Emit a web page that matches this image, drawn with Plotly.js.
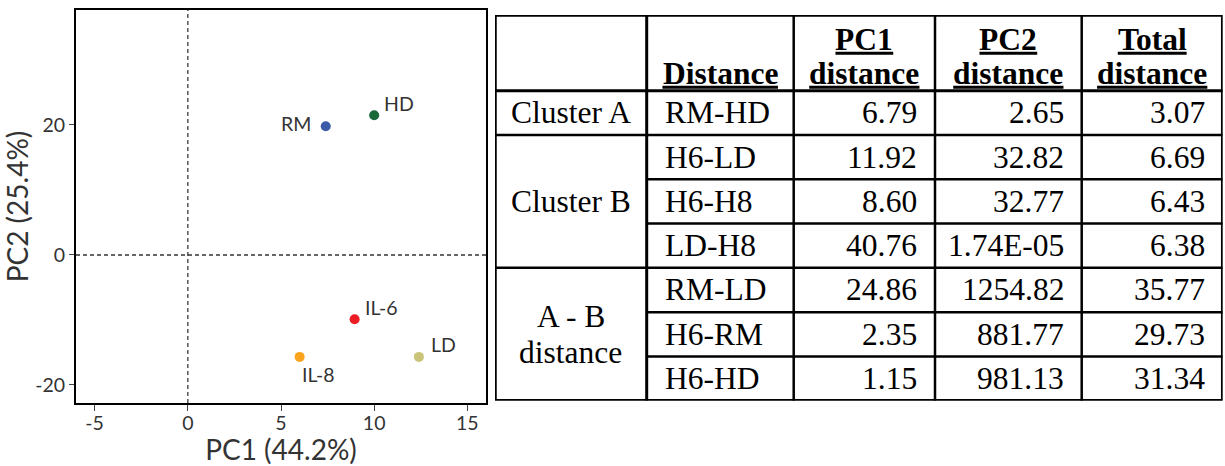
<!DOCTYPE html>
<html>
<head>
<meta charset="utf-8">
<script src="https://cdn.plot.ly/plotly-3.0.1.min.js"></script>
<style>html,body{margin:0;padding:0;background:#fff;}#chart{width:1225px;height:466px;}</style>
</head>
<body>
<div id="chart"></div>
<script>
// ---------- scatter data ----------
const sampleLabels = ['RM', 'HD', 'IL-6', 'IL-8', 'LD'];
const pc1Scores = [7.4, 10.0, 8.95, 6.0, 12.4];
const pc2Scores = [19.8, 21.5, -9.9, -15.7, -15.7];
const sampleColors = ['#3b5ba8', '#17693a', '#ec1c24', '#f9a41c', '#cac47a'];
const xTickVals = [-5, 0, 5, 10, 15];
const yTickVals = [-20, 0, 20];

// ---------- table data ----------
const headerLine1 = ['', '', 'PC1', 'PC2', 'Total'];
const headerLine2 = ['', 'Distance', 'distance', 'distance', 'distance'];
const groupNames = [['Cluster A'], ['Cluster B'], ['A - B', 'distance']];
const groupSpans = [1, 3, 3];
const pairNames = ['RM-HD', 'H6-LD', 'H6-H8', 'LD-H8', 'RM-LD', 'H6-RM', 'H6-HD'];
const pc1Distance = ['6.79', '11.92', '8.60', '40.76', '24.86', '2.35', '1.15'];
const pc2Distance = ['2.65', '32.82', '32.77', '1.74E-05', '1254.82', '881.77', '981.13'];
const totalDistance = ['3.07', '6.69', '6.43', '6.38', '35.77', '29.73', '31.34'];

// ---------- layout geometry (pixels) ----------
const W = 1225, H = 466;
const M = {l: 76, r: 2, t: 10, b: 63};
const PW = W - M.l - M.r, PH = H - M.t - M.b;
const plotBox = {l: 76, r: 486, t: 10, b: 403};
const tableBox = {l: 495, r: 1222.7, t: 15, b: 400.7};
const colWidths = [151.7, 147, 141.3, 146.7, 141];
const headerH = 75.7;
const nRows = pairNames.length;
const rowH = (tableBox.b - tableBox.t - headerH) / nRows;
const xdom = (a, b) => [(a - M.l) / PW, Math.min(1, (b - M.l) / PW)];
const ydom = (t, b) => [(H - M.b - b) / PH, Math.min(1, (H - M.b - t) / PH)];

const colEdges = [0];
colWidths.forEach(w => colEdges.push(colEdges[colEdges.length - 1] + w));
const rowTop = i => headerH + i * rowH;

const serifFamily = 'Liberation Serif, Times New Roman, serif';
const serifSize = 31.5;
const serif = {family: serifFamily, size: serifSize, color: '#000'};
const sans = 'Lato, Open Sans, sans-serif';

const traces = [{
  type: 'scatter', mode: 'markers', x: pc1Scores, y: pc2Scores, text: sampleLabels,
  marker: {size: 10, color: sampleColors}, xaxis: 'x', yaxis: 'y', hoverinfo: 'text'
}];

const shapes = [];
const annotations = [];

// zero lines
shapes.push({type: 'line', xref: 'x', yref: 'y domain', x0: 0, x1: 0, y0: 0, y1: 1,
  line: {color: '#555', width: 1.5, dash: '4px,3px'}});
shapes.push({type: 'line', xref: 'x domain', yref: 'y', x0: 0, x1: 1, y0: 0, y1: 0,
  line: {color: '#333', width: 1.5, dash: '4px,3px'}});

// point labels: [xshift px, yshift px (up positive), xanchor]
const labelOffsets = {RM: [-13, 3, 'right'], HD: [8, 12, 'left'],
  'IL-6': [8, 12, 'left'], 'IL-8': [0, -18, 'left'], LD: [10, 12, 'left']};
sampleLabels.forEach((lab, i) => {
  const o = labelOffsets[lab];
  annotations.push({xref: 'x', yref: 'y', x: pc1Scores[i], y: pc2Scores[i], text: lab,
    showarrow: false, xshift: o[0], yshift: o[1], xanchor: o[2], yanchor: 'middle',
    font: {family: sans, size: 19.5, color: '#333'}});
});

// table lines
const tW = colEdges[colEdges.length - 1], tH = tableBox.b - tableBox.t;
function tline(x0, y0, x1, y1, w) {
  shapes.push({type: 'line', xref: 'x2', yref: 'y2', x0, y0, x1, y1, line: {color: '#000', width: w}});
}
tline(0, headerH, tW, headerH, 3);
for (let r = 1; r < nRows; r++) {
  let acc = 0, isGroupBoundary = false;
  groupSpans.forEach(s => { acc += s; if (acc === r) isGroupBoundary = true; });
  tline(isGroupBoundary ? 0 : colEdges[1], rowTop(r), tW, rowTop(r), 2.5);
}
for (let c = 1; c < colEdges.length - 1; c++) tline(colEdges[c], 0, colEdges[c], tH, c === 1 ? 3 : 2.5);
shapes.push({type: 'rect', xref: 'x2', yref: 'y2', x0: 0, x1: tW, y0: 0, y1: tH,
  line: {color: '#000', width: 3.5}});

// text width measurement for header underlines
const ctx = document.createElement('canvas').getContext('2d');
function boldWidth(t) { ctx.font = 'bold ' + serifSize + 'px "Liberation Serif"'; return ctx.measureText(t).width; }

// header text with thick underline
function headerText(t, cx, cy) {
  annotations.push({xref: 'x2', yref: 'y2', x: cx, y: cy, text: '<b>' + t + '</b>',
    showarrow: false, xanchor: 'center', yanchor: 'middle', font: serif});
  const w = boldWidth(t);
  shapes.push({type: 'line', xref: 'x2', yref: 'y2', x0: cx - w / 2, x1: cx + w / 2, y0: cy + 13.5, y1: cy + 13.5,
    line: {color: '#000', width: 3}});
}
for (let c = 0; c < colWidths.length; c++) {
  const cx = (colEdges[c] + colEdges[c + 1]) / 2;
  if (headerLine1[c]) headerText(headerLine1[c], cx, headerH - 51);
  if (headerLine2[c]) headerText(headerLine2[c], cx, headerH - 17);
}
// group names
let startRow = 0;
groupNames.forEach((lines, g) => {
  const cy = rowTop(startRow) + groupSpans[g] * rowH / 2;
  const cx = (colEdges[0] + colEdges[1]) / 2;
  lines.forEach((ln, k) => {
    const dy = (k - (lines.length - 1) / 2) * 36;
    annotations.push({xref: 'x2', yref: 'y2', x: cx, y: cy + dy, text: ln, showarrow: false,
      xanchor: 'center', yanchor: 'middle', font: serif});
  });
  startRow += groupSpans[g];
});
// body
const numCols = [pc1Distance, pc2Distance, totalDistance];
pairNames.forEach((p, r) => {
  const cy = rowTop(r) + rowH / 2;
  annotations.push({xref: 'x2', yref: 'y2', x: colEdges[1] + 16, y: cy, text: p, showarrow: false,
    xanchor: 'left', yanchor: 'middle', font: serif});
  numCols.forEach((col, k) => {
    annotations.push({xref: 'x2', yref: 'y2', x: colEdges[k + 3] - 16, y: cy, text: col[r], showarrow: false,
      xanchor: 'right', yanchor: 'middle', font: serif});
  });
});

const layout = {
  width: W, height: H, margin: M,
  paper_bgcolor: '#fff', plot_bgcolor: '#fff', showlegend: false,
  xaxis: {domain: xdom(plotBox.l, plotBox.r), range: [-6, 16],
    tickvals: xTickVals, ticktext: xTickVals.map(String),
    ticks: 'outside', ticklen: 6, tickwidth: 1, tickcolor: '#444', showgrid: false, zeroline: false,
    showline: true, mirror: true, linecolor: '#000', linewidth: 2, ticklabelstandoff: -4,
    tickfont: {family: sans, size: 19.5, color: '#333'},
    title: {text: 'PC1 (44.2%)', font: {family: sans, size: 28, color: '#333'}, standoff: 2}},
  yaxis: {domain: ydom(plotBox.t, plotBox.b), range: [-22.8, 37.7],
    tickvals: yTickVals, ticktext: yTickVals.map(String),
    ticks: 'outside', ticklen: 5, tickwidth: 1, tickcolor: '#444', showgrid: false, zeroline: false,
    showline: true, mirror: true, linecolor: '#000', linewidth: 2,
    tickfont: {family: sans, size: 19.5, color: '#333'},
    title: {text: 'PC2 (25.4%)', font: {family: sans, size: 28, color: '#333'}, standoff: 3}},
  xaxis2: {domain: xdom(tableBox.l, tableBox.r), range: [0, tW], visible: false, fixedrange: true, anchor: 'y2'},
  yaxis2: {domain: ydom(tableBox.t, tableBox.b), range: [tH, 0], visible: false, fixedrange: true, anchor: 'x2'},
  shapes, annotations
};

Plotly.newPlot('chart', traces, layout, {displayModeBar: false, staticPlot: true});
</script>
</body>
</html>
